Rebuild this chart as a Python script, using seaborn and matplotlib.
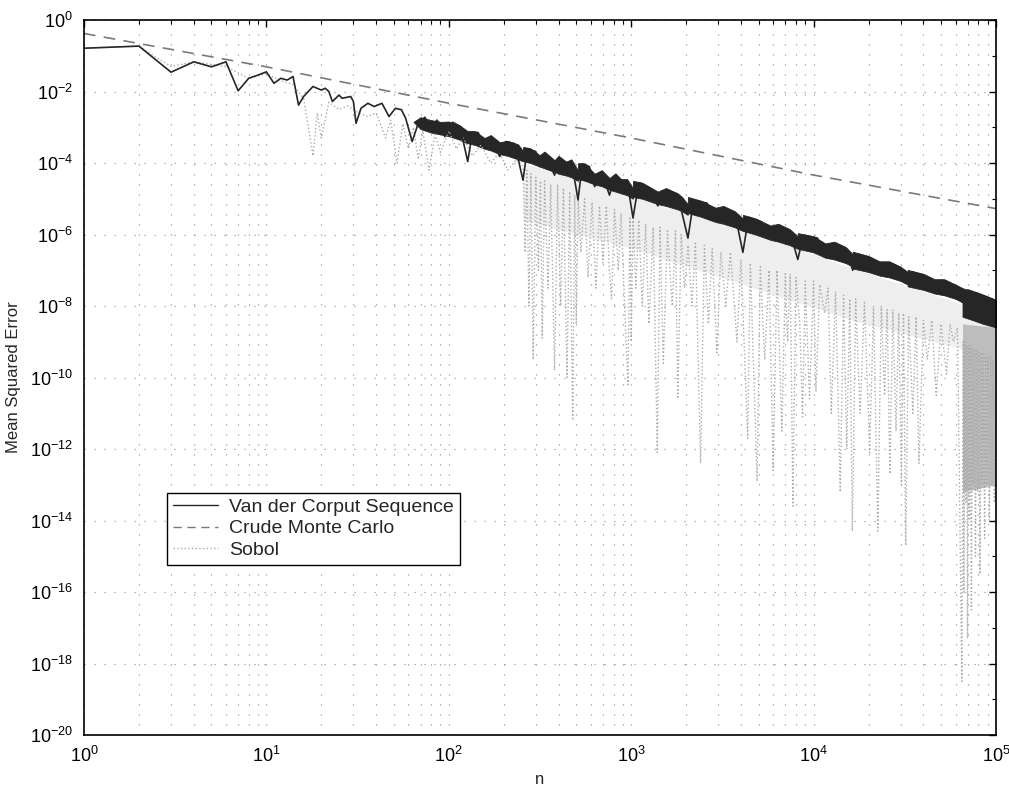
import matplotlib.pyplot as plt
import numpy as np
import pandas as pd
import seaborn as sns
from matplotlib.lines import Line2D
from matplotlib.ticker import FixedLocator, LogFormatterMathtext, NullFormatter

# values (MSE stored as log10 of the value)
vdc_n = [1, 2, 3, 4, 5, 6, 7, 8, 9, 10, 11, 12, 13, 14, 15, 16, 18, 20, 21, 22,
         23, 25, 26, 29, 30, 31, 33, 36, 39, 43, 47, 51, 55, 58, 63, 68, 74, 79,
         86, 91, 95, 105, 115, 127, 135, 145, 157, 170, 190, 205, 230, 255, 270,
         300, 315, 335, 380, 400, 440, 470, 511, 540, 590, 630, 690, 760, 820,
         880, 950, 1023, 1100, 1250, 1400, 1550, 1800, 1900, 2047, 2200, 2600,
         2900, 3200, 3700, 4095, 4400, 5200, 5800, 6400, 7400, 8191, 8800, 10500,
         11600, 13000, 15000, 16383, 17500, 21000, 23000, 26000, 30000, 32767,
         35000, 42000, 46000, 52000, 60000, 65535, 70000, 80000, 90000, 100000]
vdc_log10 = [-0.79, -0.73, -1.46, -1.17, -1.31, -1.17, -1.98, -1.63, -1.54, -1.45,
             -1.77, -1.63, -1.68, -1.58, -2.38, -2.14, -1.86, -1.96, -1.91, -2.0,
             -2.28, -2.1, -2.19, -2.14, -2.28, -2.89, -2.47, -2.33, -2.42, -2.33,
             -2.7, -2.47, -2.51, -2.75, -3.4, -2.89, -2.72, -3.08, -2.8, -2.98,
             -3.26, -2.86, -2.97, -3.96, -3.13, -3.15, -3.58, -3.26, -3.82, -3.4,
             -3.46, -4.48, -3.6, -3.68, -4.1, -3.72, -4.34, -3.85, -4.28, -3.93,
             -5.03, -4.02, -4.1, -4.66, -4.25, -4.9, -4.35, -4.76, -4.5, -5.54,
             -4.55, -4.7, -5.2, -4.75, -4.88, -5.4, -6.1, -5.05, -5.12, -5.6, -5.25,
             -5.4, -6.5, -5.52, -5.65, -6.1, -5.75, -5.9, -6.7, -6.02, -6.1,
             -6.6, -6.25, -6.4, -7.0, -6.55, -6.68, -7.1, -6.8, -6.95, -7.3, -7.05,
             -7.18, -7.5, -7.3, -7.45, -7.9, -7.55, -7.65, -7.75, -7.85]

# dense part of the Van der Corput curve: top and bottom of the black band
band_n = [64, 70, 80, 90, 100, 115, 126,
          128, 140, 157, 170, 190, 210, 240, 254,
          256, 280, 315, 335, 380, 400, 440, 470, 510,
          512, 560, 630, 690, 760, 820, 880, 950, 1020,
          1024, 1150, 1400, 1550, 1800, 1900, 2040,
          2048, 2400, 2900, 3200, 3700, 4090,
          4096, 4800, 5800, 6400, 7400, 8180,
          8192, 10000, 11600, 13000, 15000, 16370,
          16384, 20000, 23000, 26000, 30000, 32760,
          32768, 40000, 46000, 52000, 60000, 65530,
          65536, 75000, 85000, 100000]
band_hi = [-2.85, -2.72, -2.8, -2.85, -2.84, -2.95, -3.1,
           -3.1, -3.12, -3.3, -3.22, -3.42, -3.38, -3.48, -3.65,
           -3.55, -3.59, -3.78, -3.68, -3.92, -3.8, -3.96, -3.9, -4.2,
           -4.0, -4.02, -4.3, -4.2, -4.42, -4.29, -4.45, -4.45, -4.7,
           -4.5, -4.55, -4.8, -4.7, -4.85, -4.95, -5.15,
           -4.95, -5.05, -5.25, -5.2, -5.35, -5.55,
           -5.45, -5.55, -5.75, -5.7, -5.85, -6.05,
           -5.96, -6.05, -6.25, -6.2, -6.35, -6.55,
           -6.48, -6.6, -6.75, -6.75, -6.9, -7.05,
           -6.99, -7.1, -7.25, -7.25, -7.4, -7.5,
           -7.5, -7.6, -7.7, -7.83]
band_lo = [-2.85, -3.05, -3.15, -3.2, -3.25, -3.35, -3.45,
           -3.45, -3.5, -3.6, -3.65, -3.75, -3.8, -3.9, -3.95,
           -3.95, -4.0, -4.1, -4.15, -4.25, -4.3, -4.35, -4.4, -4.5,
           -4.45, -4.5, -4.6, -4.65, -4.75, -4.8, -4.85, -4.9, -5.0,
           -4.95, -5.0, -5.15, -5.2, -5.3, -5.35, -5.45,
           -5.4, -5.5, -5.65, -5.7, -5.8, -5.9,
           -5.9, -6.0, -6.15, -6.2, -6.3, -6.4,
           -6.4, -6.5, -6.65, -6.7, -6.8, -6.9,
           -6.95, -7.05, -7.15, -7.2, -7.3, -7.4,
           -7.45, -7.55, -7.65, -7.7, -7.8, -7.9,
           -8.3, -8.4, -8.5, -8.6]

mc_n = [1, 10, 100, 1000, 10000, 100000]
mc_mse = [0.42, 0.049, 4.7e-3, 5.0e-4, 4.6e-5, 5.3e-6]

sobol_n = [1, 2, 3, 4, 6, 8, 10, 12, 14, 16, 17, 18, 19, 20, 22, 25, 28, 32, 36,
           40, 45, 48, 52, 56, 60, 64, 68, 72, 78, 84, 90, 100, 110, 120, 135,
           150, 170, 190, 210, 235, 256,
           262, 268, 275, 282, 290, 300, 310, 318, 325, 335, 350, 362, 380, 395,
           410, 425, 445, 460, 478, 490, 500, 512, 530, 555, 580, 610, 640, 670,
           700, 730, 760, 780, 810, 850, 880, 920, 960, 985, 1000, 1024,
           1060, 1100, 1150, 1200, 1250, 1320, 1390, 1440, 1500, 1580, 1680, 1750,
           1800, 1880, 1960, 2050, 2150, 2250, 2400, 2520, 2650, 2780, 2950, 3100,
           3300, 3500, 3800, 4000, 4350, 4500, 4900, 5100, 5400, 5700, 6000, 6300,
           6700, 7000, 7200, 7450, 7700, 8000, 8400, 8700, 9000, 9500, 10000,
           10300,
           10800, 11500, 12000, 12500, 13200, 14000, 14600, 15200, 15800, 16300,
           17000, 18000, 19000, 20300, 21300, 22500, 23500, 24500, 25300, 26200,
           27200, 28300, 29300, 30300, 31100, 32000, 33200, 35000, 36500, 37800,
           40000, 42000, 44500, 47000, 50000, 53500, 56000, 58500, 61500, 65000,
           66000, 66700, 67500, 68300, 69000, 69800, 70600, 71500, 72400, 73300,
           74200, 75200, 76200, 77200, 78300, 79400, 80500, 81700, 82900, 84100,
           85300, 86600, 87900, 89200, 90600, 92000, 93400, 94900, 96400, 98000,
           100000]
sobol_log10 = [-0.79, -0.73, -1.3, -1.17, -1.3, -1.63, -1.5, -1.7, -1.8, -2.2,
               -3.0, -3.8, -2.6, -3.3, -2.3, -2.5, -2.4, -2.6, -2.7, -2.6, -3.3,
               -2.8, -4.0, -2.9, -3.6, -3.0, -3.9, -3.1, -4.2, -3.2, -3.7, -3.1,
               -3.6, -3.3, -3.8, -3.5, -4.0, -3.7, -4.2, -3.9, -4.1,
               -6.5, -4.2, -8.0, -4.3, -9.5, -4.4, -7.0, -4.5, -8.9, -4.5, -7.5,
               -4.6, -9.8, -4.6, -8.0, -4.7, -10.0, -4.8, -11.2, -4.9, -8.5, -5.0,
               -6.5, -5.0, -7.2, -5.1, -7.5, -5.2, -6.8, -5.2, -7.0, -7.8, -5.3,
               -7.0, -5.4, -8.0, -10.2, -5.5, -9.0, -5.6,
               -7.5, -5.6, -8.0, -5.7, -8.5, -5.8, -12.1, -5.8, -9.6, -5.9, -8.0,
               -5.9, -10.6, -6.0, -7.5, -6.3, -8.0, -6.2, -12.4, -6.3, -8.5, -6.4,
               -9.3, -6.5, -8.0, -6.5, -9.0, -6.7, -11.7, -6.8, -12.9, -6.9, -9.5,
               -7.0, -12.6, -7.0, -11.5, -7.1, -9.0, -7.1, -13.6, -7.2, -8.5,
               -11.1, -7.3, -10.6, -7.3, -10.4,
               -7.4, -8.2, -7.5, -11.0, -7.6, -13.2, -7.7, -12.0, -7.8, -14.3,
               -7.8, -11.0, -7.9, -12.1, -8.0, -14.3, -8.0, -10.5, -8.1, -12.7,
               -8.1, -11.5, -8.2, -13.0, -8.2, -14.7, -8.3, -11.0, -8.3, -12.4,
               -8.4, -9.5, -8.4, -10.5, -8.5, -9.9, -8.5, -9.0, -8.6, -18.5,
               -9.0, -16.0, -9.0, -13.5, -9.1, -17.3, -9.1, -14.0, -9.1, -16.5,
               -9.2, -13.0, -9.2, -15.0, -9.2, -13.2, -9.3, -15.5, -9.3, -13.0,
               -9.3, -14.5, -9.4, -13.0, -9.4, -14.0, -9.4, -13.0, -9.5, -13.5,
               -9.5]

# where the Sobol trace is so dense it reads as a grey haze
haze_n = [256, 512, 1024, 2048, 4096, 8192, 16384, 32768, 65535, 65536, 100000]
haze_hi = [-4.0, -4.45, -4.95, -5.4, -5.9, -6.4, -6.95, -7.45, -7.95, -8.3, -8.6]
haze_lo = [-5.6, -6.0, -6.4, -6.9, -7.4, -7.9, -8.4, -8.8, -9.2, -9.2, -9.2]
block_n = [65536, 100000]
block_hi = [-8.5, -8.6]
block_lo = [-13.2, -13.0]

y_ticks_exp = [0, -2, -4, -6, -8, -10, -12, -14, -16, -18, -20]

sns.set_theme(style="white")
plt.rcParams.update(
    {
        "font.family": ["Liberation Sans", "DejaVu Sans"],
        "mathtext.fontset": "custom",
        "mathtext.rm": "Liberation Sans",
        "mathtext.default": "regular",
        "axes.unicode_minus": True,
    }
)

vdc = pd.DataFrame({"n": vdc_n, "mse": 10.0 ** np.array(vdc_log10)})
sobol = pd.DataFrame({"n": sobol_n, "mse": 10.0 ** np.array(sobol_log10)})
mc = pd.DataFrame({"n": mc_n, "mse": mc_mse})

fig = plt.figure(figsize=(10.09, 7.95), dpi=100)
ax = fig.add_axes([84 / 1009, 60 / 795, 912 / 1009, 715 / 795])
ax.set_xscale("log")
ax.set_yscale("log")

sobol_color = "#ababab"
mc_color = "#7a7a7a"
vdc_color = "#262626"

ax.fill_between(haze_n, 10.0 ** np.array(haze_lo), 10.0 ** np.array(haze_hi),
                color="#eeeeee", linewidth=0)
ax.fill_between(block_n, 10.0 ** np.array(block_lo), 10.0 ** np.array(block_hi),
                color="#bdbdbd", linewidth=0)
sns.lineplot(data=sobol, x="n", y="mse", estimator=None, sort=False, ax=ax,
             color=sobol_color, linewidth=1.0, linestyle=":")
sns.lineplot(data=mc, x="n", y="mse", estimator=None, sort=False, ax=ax,
             color=mc_color, linewidth=1.2)
ax.lines[-1].set_dashes((7, 5))
ax.fill_between(band_n, 10.0 ** np.array(band_lo), 10.0 ** np.array(band_hi),
                color=vdc_color, linewidth=0.6, edgecolor=vdc_color)
sns.lineplot(data=vdc, x="n", y="mse", estimator=None, sort=False, ax=ax,
             color=vdc_color, linewidth=1.2)

ax.set_xlim(1, 1e5)
ax.set_ylim(1e-20, 1)

# MATLAB-like dotted grid and inward ticks on all sides
ax.yaxis.set_major_locator(FixedLocator([10.0 ** e for e in y_ticks_exp]))
ax.yaxis.set_major_formatter(LogFormatterMathtext())
ax.yaxis.set_minor_locator(FixedLocator([10.0 ** e for e in range(-19, 0, 2)]))
ax.yaxis.set_minor_formatter(NullFormatter())
ax.xaxis.set_major_formatter(LogFormatterMathtext())
ax.xaxis.set_minor_formatter(NullFormatter())

grid_kw = dict(color="#8c8c8c", linewidth=0.8, linestyle=(0, (1, 8)))
ax.grid(True, which="major", axis="both", **grid_kw)
ax.grid(True, which="minor", axis="x", **grid_kw)
ax.set_axisbelow(True)

ax.tick_params(which="both", direction="in", top=True, right=True,
               colors="black", labelsize=13, pad=8)
ax.tick_params(which="major", length=5, width=1)
ax.tick_params(which="minor", length=3, width=0.8)
for spine in ax.spines.values():
    spine.set_color("black")
    spine.set_linewidth(1.2)

ax.set_xlabel("n", fontsize=12, labelpad=4)
ax.set_ylabel("Mean Squared Error", fontsize=12, labelpad=6)

handles = [
    Line2D([], [], color=vdc_color, linewidth=1.0),
    Line2D([], [], color=mc_color, linewidth=1.0, dashes=(6, 4)),
    Line2D([], [], color=sobol_color, linewidth=1.0, linestyle=":"),
]
labels = ["Van der Corput Sequence", "Crude Monte Carlo", "Sobol"]
leg = ax.legend(handles, labels, loc="lower left", bbox_to_anchor=(0.091, 0.238),
                fontsize=14, frameon=True, fancybox=False, borderaxespad=0,
                handlelength=2.3, handletextpad=0.6, labelspacing=0.2,
                borderpad=0.3)
leg.get_frame().set_edgecolor("black")
leg.get_frame().set_linewidth(1.0)
leg.get_frame().set_facecolor("white")
leg.get_frame().set_alpha(1)

fig.savefig("out.png", dpi=100)
